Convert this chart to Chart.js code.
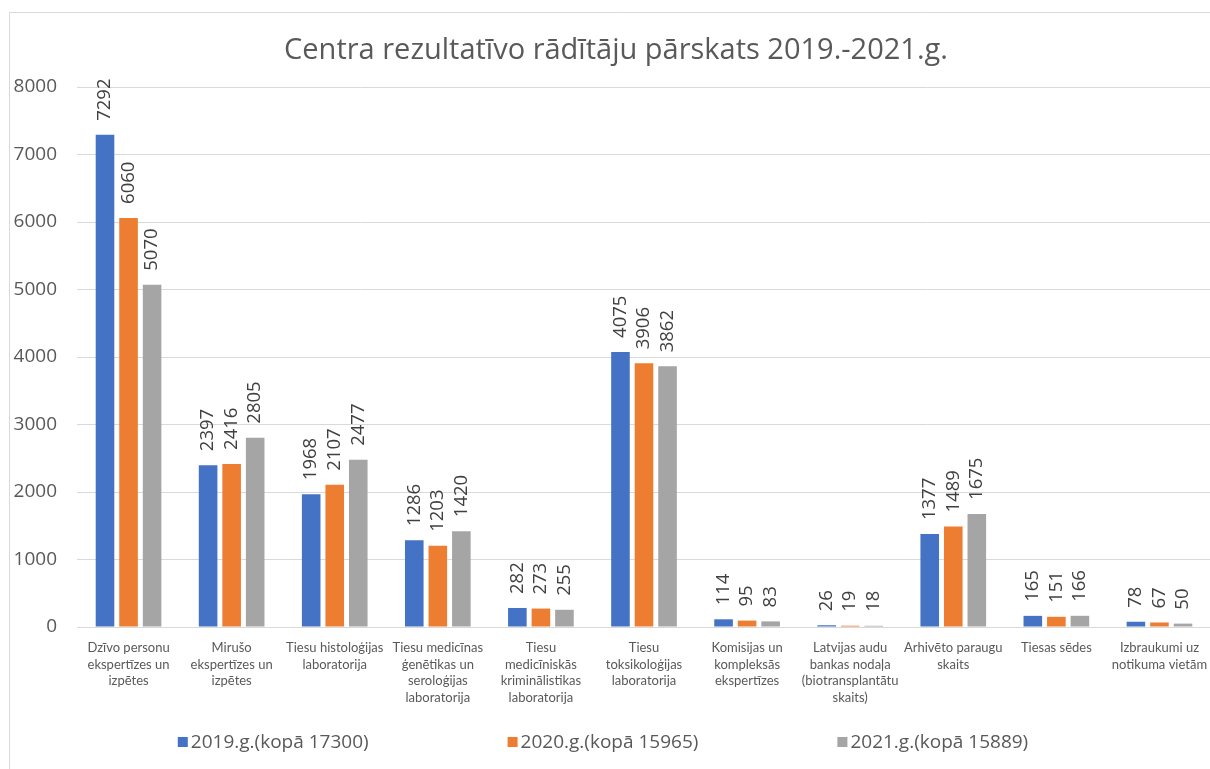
<!DOCTYPE html>
<html>
<head>
<meta charset="utf-8">
<script src="https://cdn.jsdelivr.net/npm/chart.js@4.4.1/dist/chart.umd.min.js"></script>
<style>
  html, body { margin: 0; padding: 0; background: #ffffff; overflow: hidden; }
  #wrap { position: absolute; left: 0; top: 0; width: 1232px; height: 769px; }
</style>
</head>
<body>
<div id="wrap"><canvas id="c"></canvas></div>
<script>
const titleText = 'Centra rezultatīvo rādītāju pārskats 2019.-2021.g.';
const categories = [
  ['Dzīvo personu', 'ekspertīzes un', 'izpētes'],
  ['Mirušo', 'ekspertīzes un', 'izpētes'],
  ['Tiesu histoloģijas', 'laboratorija'],
  ['Tiesu medicīnas', 'ģenētikas un', 'seroloģijas', 'laboratorija'],
  ['Tiesu', 'medicīniskās', 'kriminālistikas', 'laboratorija'],
  ['Tiesu', 'toksikoloģijas', 'laboratorija'],
  ['Komisijas un', 'kompleksās', 'ekspertīzes'],
  ['Latvijas audu', 'bankas nodaļa', '(biotransplantātu', 'skaits)'],
  ['Arhivēto paraugu', 'skaits'],
  ['Tiesas sēdes'],
  ['Izbraukumi uz', 'notikuma vietām']
];
const seriesNames = ['2019.g.(kopā 17300)', '2020.g.(kopā 15965)', '2021.g.(kopā 15889)'];
const values2019 = [7292, 2397, 1968, 1286, 282, 4075, 114, 26, 1377, 165, 78];
const values2020 = [6060, 2416, 2107, 1203, 273, 3906, 95, 19, 1489, 151, 67];
const values2021 = [5070, 2805, 2477, 1420, 255, 3862, 83, 18, 1675, 166, 50];
const seriesColors = ['#4472C4', '#ED7D31', '#A5A5A5'];
const yTicks = [0, 1000, 2000, 3000, 4000, 5000, 6000, 7000, 8000];

const frame = {
  id: 'frame',
  beforeDraw(chart, args, opts) {
    const ctx = chart.ctx;
    ctx.save();
    ctx.strokeStyle = '#d9d9d9';
    ctx.lineWidth = 1;
    ctx.beginPath();
    ctx.moveTo(9.5, chart.height);
    ctx.lineTo(9.5, 12.5);
    ctx.lineTo(chart.width, 12.5);
    ctx.stroke();
    ctx.font = opts.titleFont;
    ctx.fillStyle = opts.titleColor;
    ctx.textAlign = 'center';
    ctx.textBaseline = 'middle';
    ctx.fillText(titleText, opts.titleX, opts.titleY);
    ctx.restore();
  }
};

const valueLabels = {
  id: 'valueLabels',
  afterDatasetsDraw(chart) {
    const ctx = chart.ctx;
    ctx.save();
    ctx.font = '18.5px "Open Sans"';
    ctx.fillStyle = '#404040';
    ctx.textAlign = 'left';
    ctx.textBaseline = 'middle';
    chart.data.datasets.forEach((ds, i) => {
      const meta = chart.getDatasetMeta(i);
      meta.data.forEach((bar, j) => {
        ctx.save();
        ctx.translate(bar.x, bar.y - 14);
        ctx.rotate(-Math.PI / 2);
        ctx.fillText(String(ds.data[j]), 0, 0);
        ctx.restore();
      });
    });
    ctx.restore();
  }
};

const bottomLegend = {
  id: 'bottomLegend',
  afterDraw(chart, args, opts) {
    const ctx = chart.ctx;
    ctx.save();
    ctx.font = opts.font;
    ctx.textBaseline = 'middle';
    ctx.textAlign = 'left';
    const items = chart.data.datasets.map(d => ({ text: d.label, color: d.backgroundColor, w: ctx.measureText(d.label).width }));
    const total = items.reduce((s, it) => s + opts.box + opts.gap + it.w, 0) + opts.spacing * (items.length - 1);
    let x = opts.centerX - total / 2;
    const y = chart.scales.x.bottom + opts.offset;
    items.forEach(it => {
      ctx.fillStyle = it.color;
      ctx.fillRect(x, y - opts.box / 2, opts.box, opts.box);
      x += opts.box + opts.gap;
      ctx.fillStyle = opts.color;
      ctx.fillText(it.text, x, y + 1);
      x += it.w + opts.spacing;
    });
    ctx.restore();
  }
};

new Chart(document.getElementById('c'), {
  type: 'bar',
  data: {
    labels: categories,
    datasets: [
      { label: seriesNames[0], data: values2019, backgroundColor: seriesColors[0] },
      { label: seriesNames[1], data: values2020, backgroundColor: seriesColors[1] },
      { label: seriesNames[2], data: values2021, backgroundColor: seriesColors[2] }
    ]
  },
  options: {
    responsive: true,
    maintainAspectRatio: false,
    devicePixelRatio: 1,
    animation: false,
    layout: { padding: { left: 0, right: 21, top: 87, bottom: 42 } },
    datasets: { bar: { categoryPercentage: 0.685, barPercentage: 0.79 } },
    scales: {
      x: {
        grid: { display: false, drawTicks: false },
        border: { display: true, color: '#d9d9d9', width: 1 },
        ticks: {
          autoSkip: false, maxRotation: 0, minRotation: 0, padding: 12,
          color: '#595959',
          font: { family: 'Lato', size: 13, lineHeight: 1.3 }
        },
        afterFit(scale) { scale.height = 100; }
      },
      y: {
        min: 0, max: 8000,
        afterBuildTicks(scale) { scale.ticks = yTicks.map(v => ({ value: v })); },
        grid: { color: '#d9d9d9', drawTicks: false },
        border: { display: false },
        ticks: {
          padding: 20, color: '#595959',
          font: { family: 'Open Sans', size: 19 },
          callback: v => String(v)
        },
        afterFit(scale) { scale.width = 77; }
      }
    },
    plugins: {
      legend: { display: false },
      tooltip: { enabled: false },
      title: { display: false },
      frame: {
        titleFont: '29px "Open Sans"', titleColor: '#595959', titleX: 616, titleY: 51
      },
      bottomLegend: {
        font: '19px "Open Sans"', color: '#595959',
        box: 10, gap: 3, spacing: 139, centerX: 603, offset: 15
      }
    }
  },
  plugins: [frame, valueLabels, bottomLegend]
});
</script>
</body>
</html>
